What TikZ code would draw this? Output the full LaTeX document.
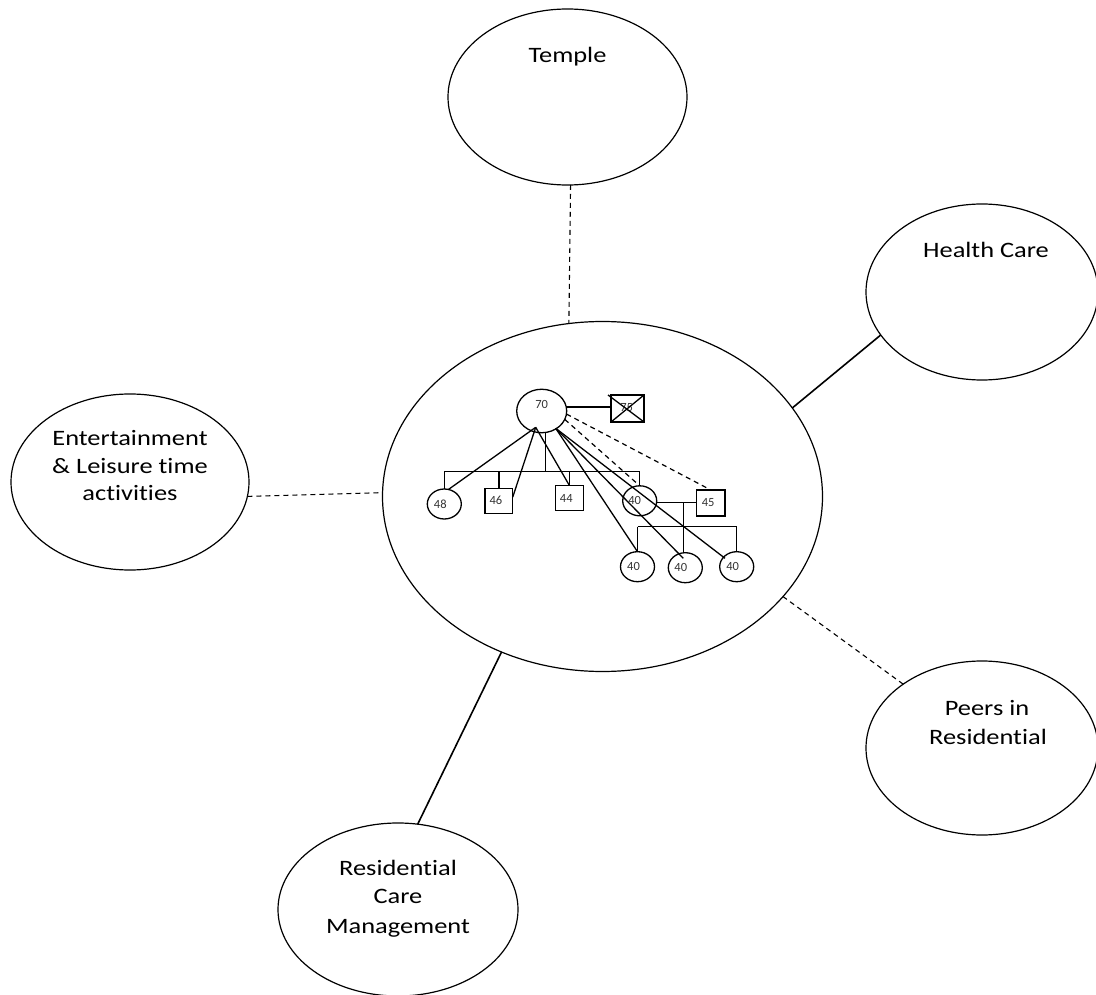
\documentclass[tikz,border=0pt]{standalone}
\usepackage{fontspec}
\setmainfont{Carlito}[FakeStretch=1.2, Ligatures=NoCommon]
\newfontfamily\numfont{Carlito}
\usetikzlibrary{shapes.geometric}
\begin{document}
\begin{tikzpicture}[x=1pt,y=-1pt,
  bub/.style={ellipse, draw, line width=1.2pt, inner sep=0pt, outer sep=0pt},
  txt/.style={font=\fontsize{22}{28}\selectfont, anchor=base, inner sep=0pt},
  con/.style={line width=1.6pt},
  dl/.style={line width=1.1pt, dash pattern=on 5pt off 4pt},
  gl/.style={line width=1.3pt},
  gdl/.style={line width=1.2pt, dash pattern=on 5pt off 4pt},
  gcirc/.style={ellipse, draw, line width=1.3pt, minimum width=34pt, minimum height=30pt, inner sep=0pt, outer sep=0pt},
  gbox/.style={rectangle, draw, line width=1.4pt, inner sep=0pt, outer sep=0pt},
  num/.style={font=\numfont\fontsize{12.5}{14}\selectfont, inner sep=0pt, text=black!80}
]
\clip (0,0) rectangle (1096,995);

% outer bubbles
\node[bub, minimum width=239pt, minimum height=176pt] (temple) at (567.5,97) {};
\node[bub, minimum width=232pt, minimum height=176pt] (health) at (982,292) {};
\node[bub, minimum width=238pt, minimum height=176pt] (ent) at (130,482) {};
\node[bub, minimum width=232pt, minimum height=174pt] (peers) at (982,748) {};
\node[bub, minimum width=240pt, minimum height=173pt] (rcm) at (398,909.5) {};
\node[bub, minimum width=440pt, minimum height=350pt] (center) at (602.5,496.5) {};

% bubble texts
\node[txt] (tTemple) at (567.5,62.5) {Temple};
\node[txt] (tHealth) at (986,257.3) {Health Care};
\node[txt] (tEnt1) at (130,445.5) {Entertainment};
\node[txt] (tEnt2) at (130,473) {\& Leisure time};
\node[txt] (tEnt3) at (130,500.5) {activities};
\node[txt] (tPeer1) at (987,715) {Peers in};
\node[txt] (tPeer2) at (988,744) {Residential};
\node[txt] (tRcm1) at (398,875) {Residential};
\node[txt] (tRcm2) at (398,903.3) {Care};
\node[txt] (tRcm3) at (398,933.3) {Management};

% connectors
\draw[dl] (temple.272) -- (center.101);
\draw[con] (health.203) -- (center.25);
\draw[dl] (ent.353) -- (center.179);
\draw[dl] (peers.141) -- (center.331);
\draw[con] (rcm.77) -- (center.237);

% genogram nodes
\node[gcirc, minimum width=50pt, minimum height=43.5pt] (p70) at (541.7,411) {};
\node[gbox, minimum width=33pt, minimum height=27pt] (b75) at (627.5,408.5) {};
\node[gcirc] (c48) at (444.3,504) {};
\node[gbox, minimum width=27.7pt, minimum height=25pt] (b46) at (498.9,500.8) {};
\node[gbox, minimum width=28pt, minimum height=25.4pt] (b44) at (569.3,498) {};
\node[gcirc] (c40) at (639.7,500.8) {};
\node[gbox, minimum width=28.3pt, minimum height=26pt] (b45) at (710.8,503) {};
\node[gcirc] (k1) at (637.5,566.7) {};
\node[gcirc] (k2) at (685.3,567.7) {};
\node[gcirc] (k3) at (736.7,566.7) {};

% genogram labels
\node[num] (l70) at ([shift={(0,-6.5)}]p70.center) {70};
\node[num] (l75) at ([shift={(-0.8,-1.2)}]b75.center) {75};
\node[num] (l48) at ([xshift=-4pt]c48.center) {48};
\node[num] (l46) at ([xshift=-3pt]b46.center) {46};
\node[num] (l44) at ([xshift=-3pt]b44.center) {44};
\node[num] (l40) at ([xshift=-5pt]c40.center) {40};
\node[num] (l45) at ([xshift=-2.6pt]b45.center) {45};
\node[num] (lk1) at ([xshift=-4pt]k1.center) {40};
\node[num] (lk2) at ([xshift=-4.5pt]k2.center) {40};
\node[num] (lk3) at ([xshift=-4pt]k3.center) {40};

% deceased cross
\draw[gl] ([xshift=-3pt]b75.north west) -- (b75.south east);
\draw[gl] (b75.south west) -- (b75.north east);

\coordinate (sib) at (545.7,471.7);
\coordinate (mar) at (683.3,502.7);
\coordinate (kid) at (683.3,526.7);

% marriage 70 - 75
\draw[gl] (p70.9) -- (p70.9 -| b75.west);
% sibship
\draw[gl] (p70.-80) -- (p70.-80 |- sib);
\draw[gl] (c48.north |- sib) -- (c40.north |- sib);
\draw[gl] (c48.north |- sib) -- (c48.north);
\draw[gl] (b46.north |- sib) -- (b46.north);
\draw[gl] (b44.north |- sib) -- (b44.north);
\draw[gl] (c40.north |- sib) -- (c40.north);
% marriage 40 - 45 and children
\draw[gl] (c40.east |- mar) -- (b45.west |- mar);
\draw[gl] (mar) -- (kid |- k2.north);
\draw[gl] (k1.north |- kid) -- (k3.north |- kid);
\draw[gl] (k1.north |- kid) -- (k1.north);
\draw[gl] (k3.north |- kid) -- (k3.north);

% relationship lines
\coordinate (apL) at ([shift={(-6,16.3)}]p70.center);
\coordinate (apR) at ([shift={(14,17.3)}]p70.center);
\draw[gl] (apL) -- (c48.74);
\draw[gl] (apL) -- (b46.15);
\draw[gl] (apL) -- (b44.north);
\draw[gl] (apR) -- (k1.north);
\draw[gl] (apR) -- ([shift={(-2,-9.4)}]k2.center);
\draw[gl] (apR) -- ([shift={(-11.7,-8.4)}]k3.center);
\draw[gdl] (p70.-20) -- (c40.north);
\draw[gdl] (p70.-7) -- (b45.north);
\end{tikzpicture}
\end{document}
